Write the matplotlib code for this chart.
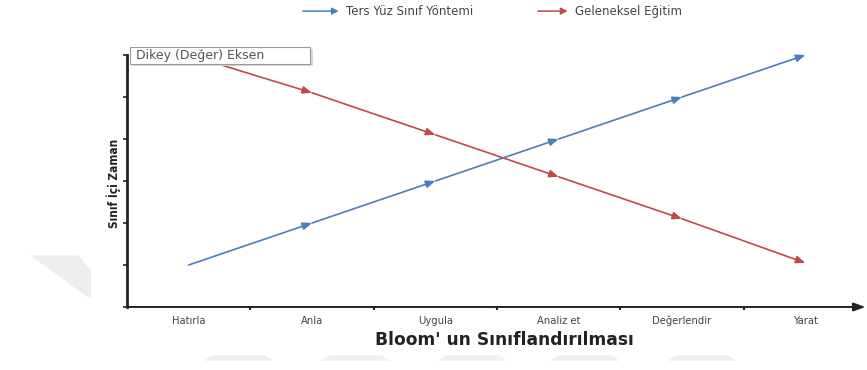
import matplotlib
matplotlib.use("Agg")
import matplotlib.pyplot as plt
from matplotlib.patches import FancyBboxPatch, Polygon

categories = ["Hatırla", "Anla", "Uygula", "Analiz et", "Değerlendir", "Yarat"]
ters_yuz = [1.0, 2.0, 3.0, 4.0, 5.0, 6.0]
geleneksel = [6.0, 5.1, 4.1, 3.1, 2.1, 1.05]
series_names = ["Ters Yüz Sınıf Yöntemi", "Geleneksel Eğitim"]
x_title = "Bloom' un Sınıflandırılması"
y_title = "Sınıf İçi Zaman"
tooltip_text = "Dikey (Değer) Eksen"

BLUE = "#4a7ebb"
RED = "#be4b48"

fig = plt.figure(figsize=(8.67, 3.70), dpi=100)
ax = fig.add_axes([0.1465, 0.1703, 0.8535, 0.681])

xs = list(range(len(categories)))


def arrow_series(values, color):
    for i in range(len(values) - 1):
        ax.annotate("", xy=(xs[i + 1], values[i + 1]), xytext=(xs[i], values[i]),
                    arrowprops=dict(arrowstyle="-|>,head_length=0.55,head_width=0.22",
                                    color=color, lw=1.2, shrinkA=0, shrinkB=0),
                    annotation_clip=False)


arrow_series(ters_yuz, BLUE)
arrow_series(geleneksel, RED)

ax.set_xlim(-0.5, len(categories) - 0.5)
ax.set_ylim(0, 6)

for s in ["top", "right", "bottom"]:
    ax.spines[s].set_visible(False)
ax.spines["left"].set_linewidth(2.0)
ax.spines["left"].set_color("#222222")

# horizontal axis drawn as an arrow
ax.annotate("", xy=(0.998, 0), xytext=(0, 0), xycoords="axes fraction",
            arrowprops=dict(arrowstyle="-|>,head_length=0.7,head_width=0.25",
                            color="#222222", lw=1.4, shrinkA=0, shrinkB=0),
            annotation_clip=False)

ax.set_yticks(range(0, 7))
ax.set_yticklabels([])
ax.tick_params(axis="y", length=3, width=1.2, color="#222222", direction="out")

# category labels centred, boundary ticks between them
ax.set_xticks([x + 0.5 for x in xs[:-1]])
ax.set_xticklabels([])
ax.tick_params(axis="x", length=2.5, width=1.5, color="#222222", direction="out")
for x, lab in zip(xs, categories):
    ax.text(x, -0.035, lab, transform=ax.get_xaxis_transform(), ha="center", va="top",
            fontsize=7.2, color="#444444", family="DejaVu Sans")

fig.text(0.582, 0.080, x_title, ha="center", va="center", fontsize=12.3,
         fontweight="bold", color="#222222", family="DejaVu Sans")
fig.text(0.131, 0.505, y_title, ha="center", va="center", rotation=90,
         fontsize=8.5, fontweight="bold", fontstretch="condensed", color="#222222",
         family=["Liberation Sans Narrow", "DejaVu Sans"])

# legend drawn along the top edge
for (x0, x1, xt), name, col in zip([(0.346, 0.394, 0.399), (0.617, 0.658, 0.663)],
                                   series_names, [BLUE, RED]):
    fig.add_artist(matplotlib.patches.FancyArrowPatch(
        (x0, 0.970), (x1, 0.970), transform=fig.transFigure,
        arrowstyle="-|>,head_length=4,head_width=2", color=col, lw=1.1,
        mutation_scale=1))
    fig.text(xt, 0.970, name, ha="left", va="center", fontsize=8.5,
             color="#444444", family="DejaVu Sans")

# hover box over the vertical axis
box = FancyBboxPatch((0.150, 0.828), 0.208, 0.046, transform=fig.transFigure,
                     boxstyle="square,pad=0", facecolor="white",
                     edgecolor="#9a9a9a", lw=0.8, zorder=5)
shadow = FancyBboxPatch((0.153, 0.822), 0.208, 0.046, transform=fig.transFigure,
                        boxstyle="square,pad=0", facecolor="#d8d8d8",
                        edgecolor="none", zorder=4)
fig.add_artist(shadow)
fig.add_artist(box)
fig.text(0.157, 0.851, tooltip_text, ha="left", va="center", fontsize=9,
         color="#555555", family="DejaVu Sans", zorder=6)

# faint grey shapes in the margins
fig.add_artist(Polygon([(0.035, 0.31), (0.09, 0.31), (0.105, 0.27), (0.105, 0.19)],
                       closed=True, transform=fig.transFigure,
                       facecolor="#eeeeee", edgecolor="none", zorder=0))
for cx in [0.275, 0.41, 0.545, 0.675, 0.81]:
    fig.add_artist(Polygon([(cx - 0.04, 0.025), (cx + 0.04, 0.025),
                            (cx + 0.03, 0.04), (cx - 0.03, 0.04)],
                           closed=True, transform=fig.transFigure,
                           facecolor="#f0f0f0", edgecolor="none", zorder=0))

fig.savefig("out.png", dpi=100)
